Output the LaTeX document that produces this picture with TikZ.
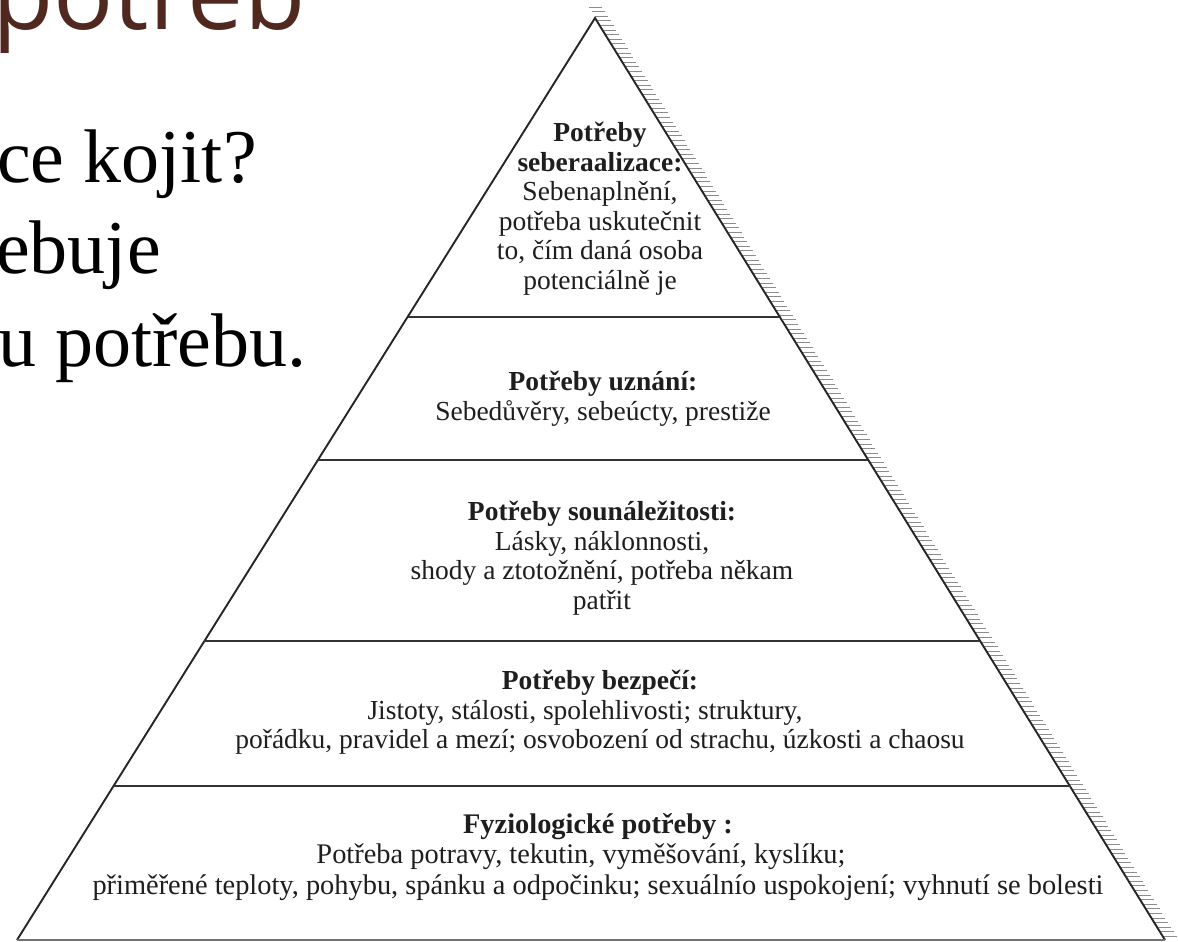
\documentclass[tikz,border=0pt]{standalone}
\usepackage{fontspec}
\setmainfont{Liberation Serif}
\newfontfamily\headfont{Open Sans}
\usepackage{tikz}
\usetikzlibrary{calc}
\definecolor{headbrown}{HTML}{51281F}
\definecolor{inkgray}{HTML}{1E1E1E}

\begin{document}
\begin{tikzpicture}[
    x=1pt, y=-1pt,
    edge/.style = {line width=1.9pt, draw=black!85},
    level/.style = {line width=1.8pt, draw=black!80},
    hatch/.style = {line width=0.6pt, draw=black!45},
    label/.style = {anchor=north, align=center, inner sep=0pt, text=inkgray, font=\fontsize{27.5}{29.5}\selectfont},
    slide/.style = {anchor=base west, inner sep=0pt, font=\fontsize{76}{90}\selectfont}
]
    \useasboundingbox (0,0) rectangle (1178,942);
    \fill[white] (0,0) rectangle (1178,942);
    \coordinate (apex) at (595,18);
    \coordinate (left) at (17,940);
    \coordinate (right) at (1165,940);

    \foreach \t in {-0.012,-0.007,...,1.0}
        \draw[hatch] ($(apex)!\t!(right)+(1,0)$) -- ++(13,0);
    \draw[edge] (left) -- (apex) -- (right);
    \draw[level, draw=black!55, line width=1.4pt] (left) -- (right);
    \foreach \f in {0.3243,0.4794,0.6757,0.833}
        \draw[level] ($(apex)!\f!(left)$) -- ($(apex)!\f!(right)$);

    \node[label] (selfreal) at (600,122) {\textbf{Potřeby}\\\textbf{seberaalizace:}\\Sebenaplnění,\\potřeba uskutečnit\\to, čím daná osoba\\potenciálně je};
    \node[label] (esteem) at (603,371) {\textbf{Potřeby uznání:}\\Sebedůvěry, sebeúcty, prestiže};
    \node[label] (belong) at (602,501) {\textbf{Potřeby sounáležitosti:}\\Lásky, náklonnosti,\\shody a ztotožnění, potřeba někam\\patřit};
    \node[label] (safety) at (600,670) {\textbf{Potřeby bezpečí:}\\Jistoty, stálosti, spolehlivosti; struktury,\rule{30pt}{0pt}\\pořádku, pravidel a mezí; osvobození od strachu, úzkosti a chaosu};
    \node[label, font=\fontsize{28.4}{30.5}\selectfont] (physio) at (598,813) {\textbf{Fyziologické potřeby :}\\Potřeba potravy, tekutin, vyměšování, kyslíku;\rule{34pt}{0pt}\\přiměřené teploty, pohybu, spánku a odpočinku; sexuálnío uspokojení; vyhnutí se bolesti};

    \node[slide, text=headbrown, font=\headfont\fontsize{100}{110}\selectfont] (title) at (-8,30) {potřeb};
    \node[slide] (lineone) at (-3,182) {ce kojit?};
    \node[slide] (linetwo) at (-4,273) {ebuje};
    \node[slide] (linethree) at (-2,366) {u potřebu.};
\end{tikzpicture}
\end{document}
